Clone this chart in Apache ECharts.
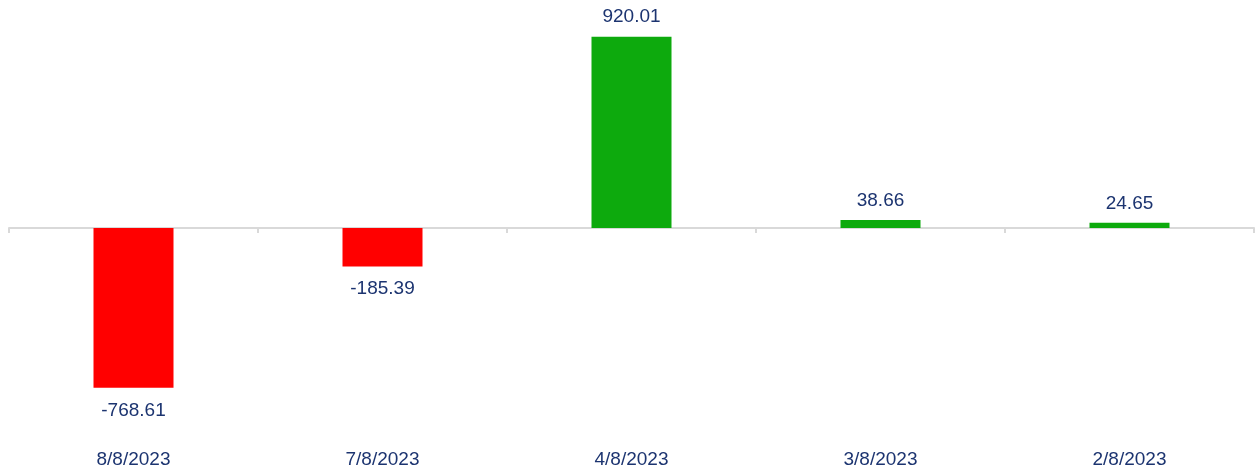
<!DOCTYPE html>
<html>
<head>
<meta charset="utf-8">
<script src="https://cdn.jsdelivr.net/npm/echarts@6/dist/echarts.min.js"></script>
<style>html,body{margin:0;padding:0;background:#fff}#c{width:1257px;height:472px}</style>
</head>
<body>
<div id="c"></div>
<script>
const categories = ['8/8/2023', '7/8/2023', '4/8/2023', '3/8/2023', '2/8/2023'];
const values = [-768.61, -185.39, 920.01, 38.66, 24.65];

const RED = '#ff0000', GREEN = '#0daa0d', TEXT = '#1c3470';
const chart = echarts.init(document.getElementById('c'), null, {renderer: 'canvas'});
chart.setOption({
  animation: false,
  grid: {left: 9, right: 3, top: 20, height: 416, containLabel: false},
  xAxis: [
    {
      type: 'category', data: categories, position: 'bottom',
      axisLine: {onZero: true, lineStyle: {color: '#d9d9d9', width: 2}},
      axisTick: {show: true, length: 5, lineStyle: {color: '#d9d9d9', width: 2}},
      axisLabel: {show: false}
    },
    {
      type: 'category', data: categories, position: 'bottom',
      axisLine: {show: false, onZero: false}, axisTick: {show: false},
      axisLabel: {color: TEXT, fontFamily: 'Liberation Sans', fontSize: 19, margin: 14}
    }
  ],
  yAxis: {type: 'value', min: -1000, max: 1000, show: false, splitLine: {show: false}},
  series: [{
    type: 'bar', xAxisIndex: 0, barWidth: 80,
    data: values.map(v => ({
      value: v,
      itemStyle: {color: v < 0 ? RED : GREEN},
      label: {distance: v < 0 ? 13 : 10}
    })),
    label: {
      show: true, position: 'outside', distance: 10,
      color: TEXT, fontFamily: 'Liberation Sans', fontSize: 19,
      formatter: p => p.value.toFixed(2)
    }
  }]
});
</script>
</body>
</html>
